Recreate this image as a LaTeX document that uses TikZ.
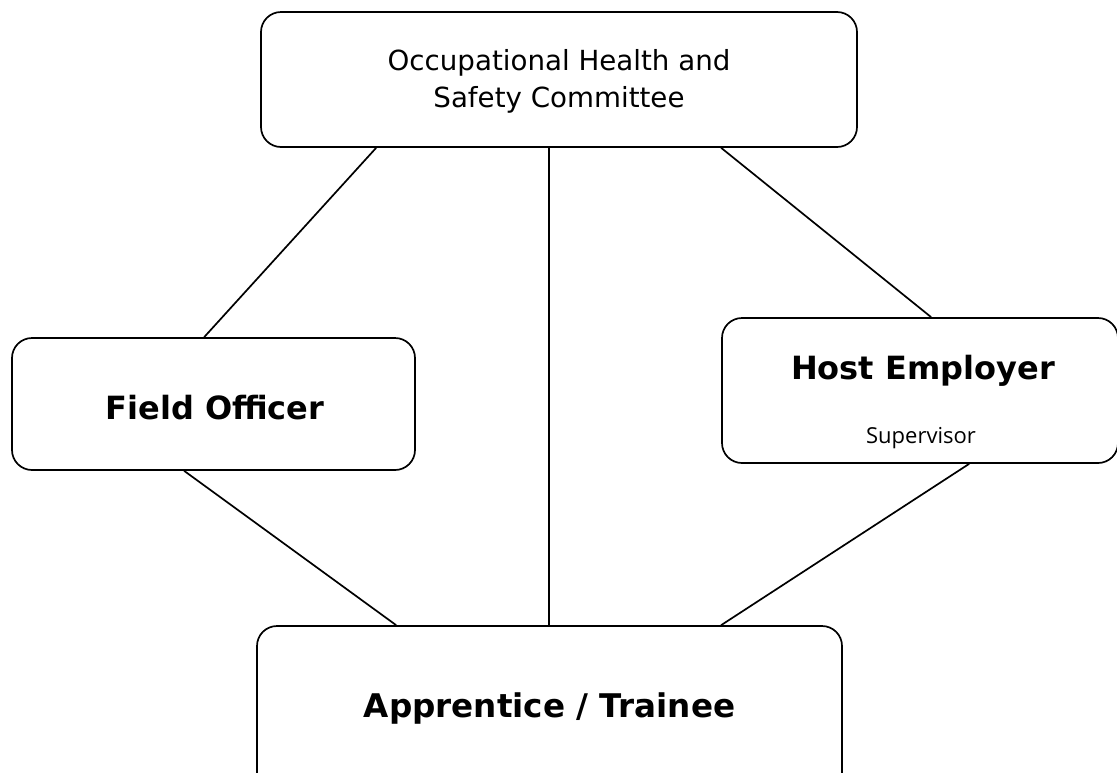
\documentclass[tikz,border=0pt]{standalone}
\usepackage{fontspec}
\setmainfont{DejaVu Sans}
\newfontfamily\supfont{Open Sans}
\begin{document}
\begin{tikzpicture}[x=1pt,y=1pt,
  box/.style={draw, line width=1.7pt, rounded corners=20pt, inner sep=0pt},
  conn/.style={line width=1.7pt},
  lbl/.style={font=\fontsize{27.7}{37}\selectfont, align=center},
  blbl/.style={font=\bfseries\fontsize{32}{36}\selectfont}
]
\useasboundingbox (0,0) rectangle (1117,-772);
\clip (0,0) rectangle (1117,-772);
\node[box, minimum width=596pt, minimum height=135pt] (top) at (559,-79.5) {};
\node[box, minimum width=403pt, minimum height=132pt] (field) at (213.5,-404) {};
\node[box, minimum width=396pt, minimum height=145pt] (host) at (920,-390.5) {};
\node[box, minimum width=585pt, minimum height=174pt] (app) at (549.5,-713) {};

\node[lbl] (toptext) at (559,-81) {Occupational Health and\\Safety Committee};
\node[blbl] (fieldtext) at (215,-408) {Field Officer};
\node[blbl] (hosttext) at (923,-371) {Host Employer};
\node[font=\supfont\fontsize{22}{24}\selectfont] (suptext) at (921,-438) {Supervisor};
\node[blbl, font=\bfseries\fontsize{32.6}{36}\selectfont] (apptext) at (549.5,-708) {Apprentice / Trainee};

\draw[conn] ([xshift=116pt]top.south west) -- ([xshift=193pt]field.north west);
\draw[conn] ([xshift=289pt]top.south west) -- ([xshift=293pt]app.north west);
\draw[conn] ([xshift=461pt]top.south west) -- ([xshift=210pt]host.north west);
\draw[conn] ([xshift=173pt]field.south west) -- ([xshift=140pt]app.north west);
\draw[conn] ([xshift=248pt]host.south west) -- ([xshift=465pt]app.north west);
\end{tikzpicture}
\end{document}
